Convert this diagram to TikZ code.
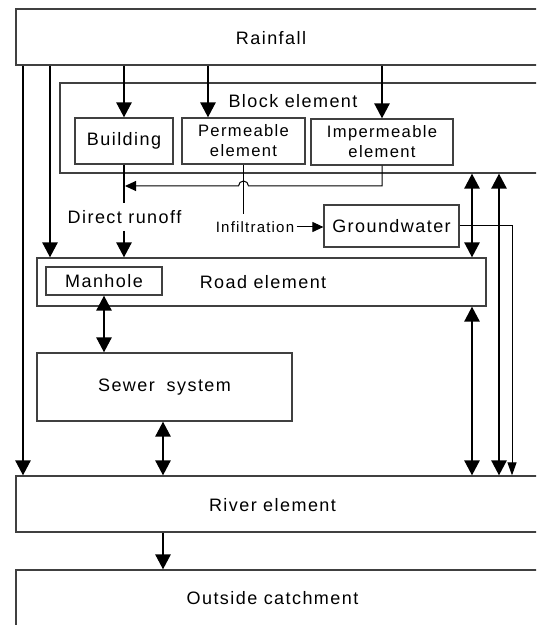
\documentclass[tikz,border=0pt]{standalone}
\usepackage{fontspec}
\setmainfont[LetterSpace=8]{Liberation Sans}
\usetikzlibrary{arrows.meta,fit,calc}
\tikzstyle{box}=[draw=black!75, line width=0.6pt, inner sep=0pt]
\tikzstyle{flow}=[line width=1.3pt, -{Triangle[width=7.5pt,length=7.5pt]}]
\tikzstyle{both}=[line width=1.3pt, {Triangle[width=7.5pt,length=7.5pt]}-{Triangle[width=7.5pt,length=7.5pt]}]
\tikzstyle{seep}=[line width=0.5pt, -{Triangle[width=5pt,length=5.5pt]}]
\tikzstyle{drain}=[line width=0.5pt, -{Triangle[width=4.5pt,length=6.5pt]}]
\tikzstyle{small}=[align=center, font=\fontsize{8.3}{10}\selectfont]

\begin{document}
\begin{tikzpicture}[x=0.5pt,y=-0.5pt,font=\fontsize{9}{11}\selectfont]
\useasboundingbox (0,0) rectangle (536,625);
\clip (0,0) rectangle (536,625);
% columns of the vertical links
\coordinate (direct) at (23,0);
\coordinate (roadrain) at (50,0);
\coordinate (permx) at (208,0);
\coordinate (outx) at (163,0);
\coordinate (soilx) at (472,0);
\coordinate (subx) at (499,0);
\coordinate (gwx) at (512,0);
\coordinate (join) at (125,186);
% boxes
\node[box, fit={(16,9) (560,65)}] (rain) {};
\node (rainlbl) at (271,38) {Rainfall};
\node[box, fit={(60,83) (560,173)}] (blk) {};
\node (blklbl) at (293,101) {Block element};
\node[box, fit={(75,118) (173,164)}] (bld) {};
\node (bldlbl) at (bld.center) {Building};
\node[box, fit={(182,118) (305,164)}] (perm) {};
\node[small] (permlbl) at (perm.center) {Permeable\\element};
\node[box, fit={(311,119) (453,165)}] (imp) {};
\node[small] (implbl) at (imp.center) {Impermeable\\element};
\node[inner sep=0pt, minimum height=13.5pt] (runoff) at (124.5,217) {Direct runoff};
\node[inner sep=1pt, font=\fontsize{7.5}{9}\selectfont] (infil) at (255,227) {Infiltration};
\node[box, fit={(324,205) (459,247)}] (gw) {};
\node (gwlbl) at (gw.center) {Groundwater};
\node[box, fit={(37,258) (486,306)}] (road) {};
\node (roadlbl) at (263,282) {Road element};
\node[box, fit={(46,267) (162,295)}] (mh) {};
\node (mhlbl) at (mh.center) {Manhole};
\node[box, fit={(37,353) (292,421)}] (sewer) {};
\node (sewerlbl) at (sewer.center) {Sewer\hspace{0.3em} system};
\node[box, fit={(16,476) (560,532)}] (river) {};
\node (riverlbl) at (272.5,505) {River element};
\node[box, fit={(16,570) (560,640)}] (out) {};
\node (outlbl) at (272.5,598) {Outside catchment};
% rainfall
\draw[flow] (rain.south -| direct) -- (river.north -| direct);
\draw[flow] (rain.south -| roadrain) -- (road.north -| roadrain);
\draw[flow] (rain.south -| bld.north) -- (bld.north);
\draw[flow] (rain.south -| permx) -- (perm.north -| permx);
\draw[flow] (rain.south -| imp.north) -- (imp.north);
% runoff and infiltration
\draw[line width=1.3pt] (bld.south) -- (runoff.north -| bld.south);
\draw[flow] (runoff.south -| bld.south) -- (road.north -| bld.south);
\draw[seep] (imp.south) |- (248.5,186) arc[start angle=0, end angle=-180, radius=5] -- (join);
\draw[line width=0.5pt] (perm.south) -- ++(0,49);
\draw[seep] (infil.east) -- (infil.east -| gw.west);
\draw[drain] (gw.east) -| (river.north -| gwx);
% exchanges
\draw[both] (blk.south -| soilx) -- (road.north -| soilx);
\draw[both] (road.south -| soilx) -- (river.north -| soilx);
\draw[both] (blk.south -| subx) -- (river.north -| subx);
\draw[both] (mh.south) -- (sewer.north -| mh.south);
\draw[both] (sewer.south -| outx) -- (river.north -| outx);
\draw[flow] (river.south -| outx) -- (out.north -| outx);
\end{tikzpicture}
\end{document}
